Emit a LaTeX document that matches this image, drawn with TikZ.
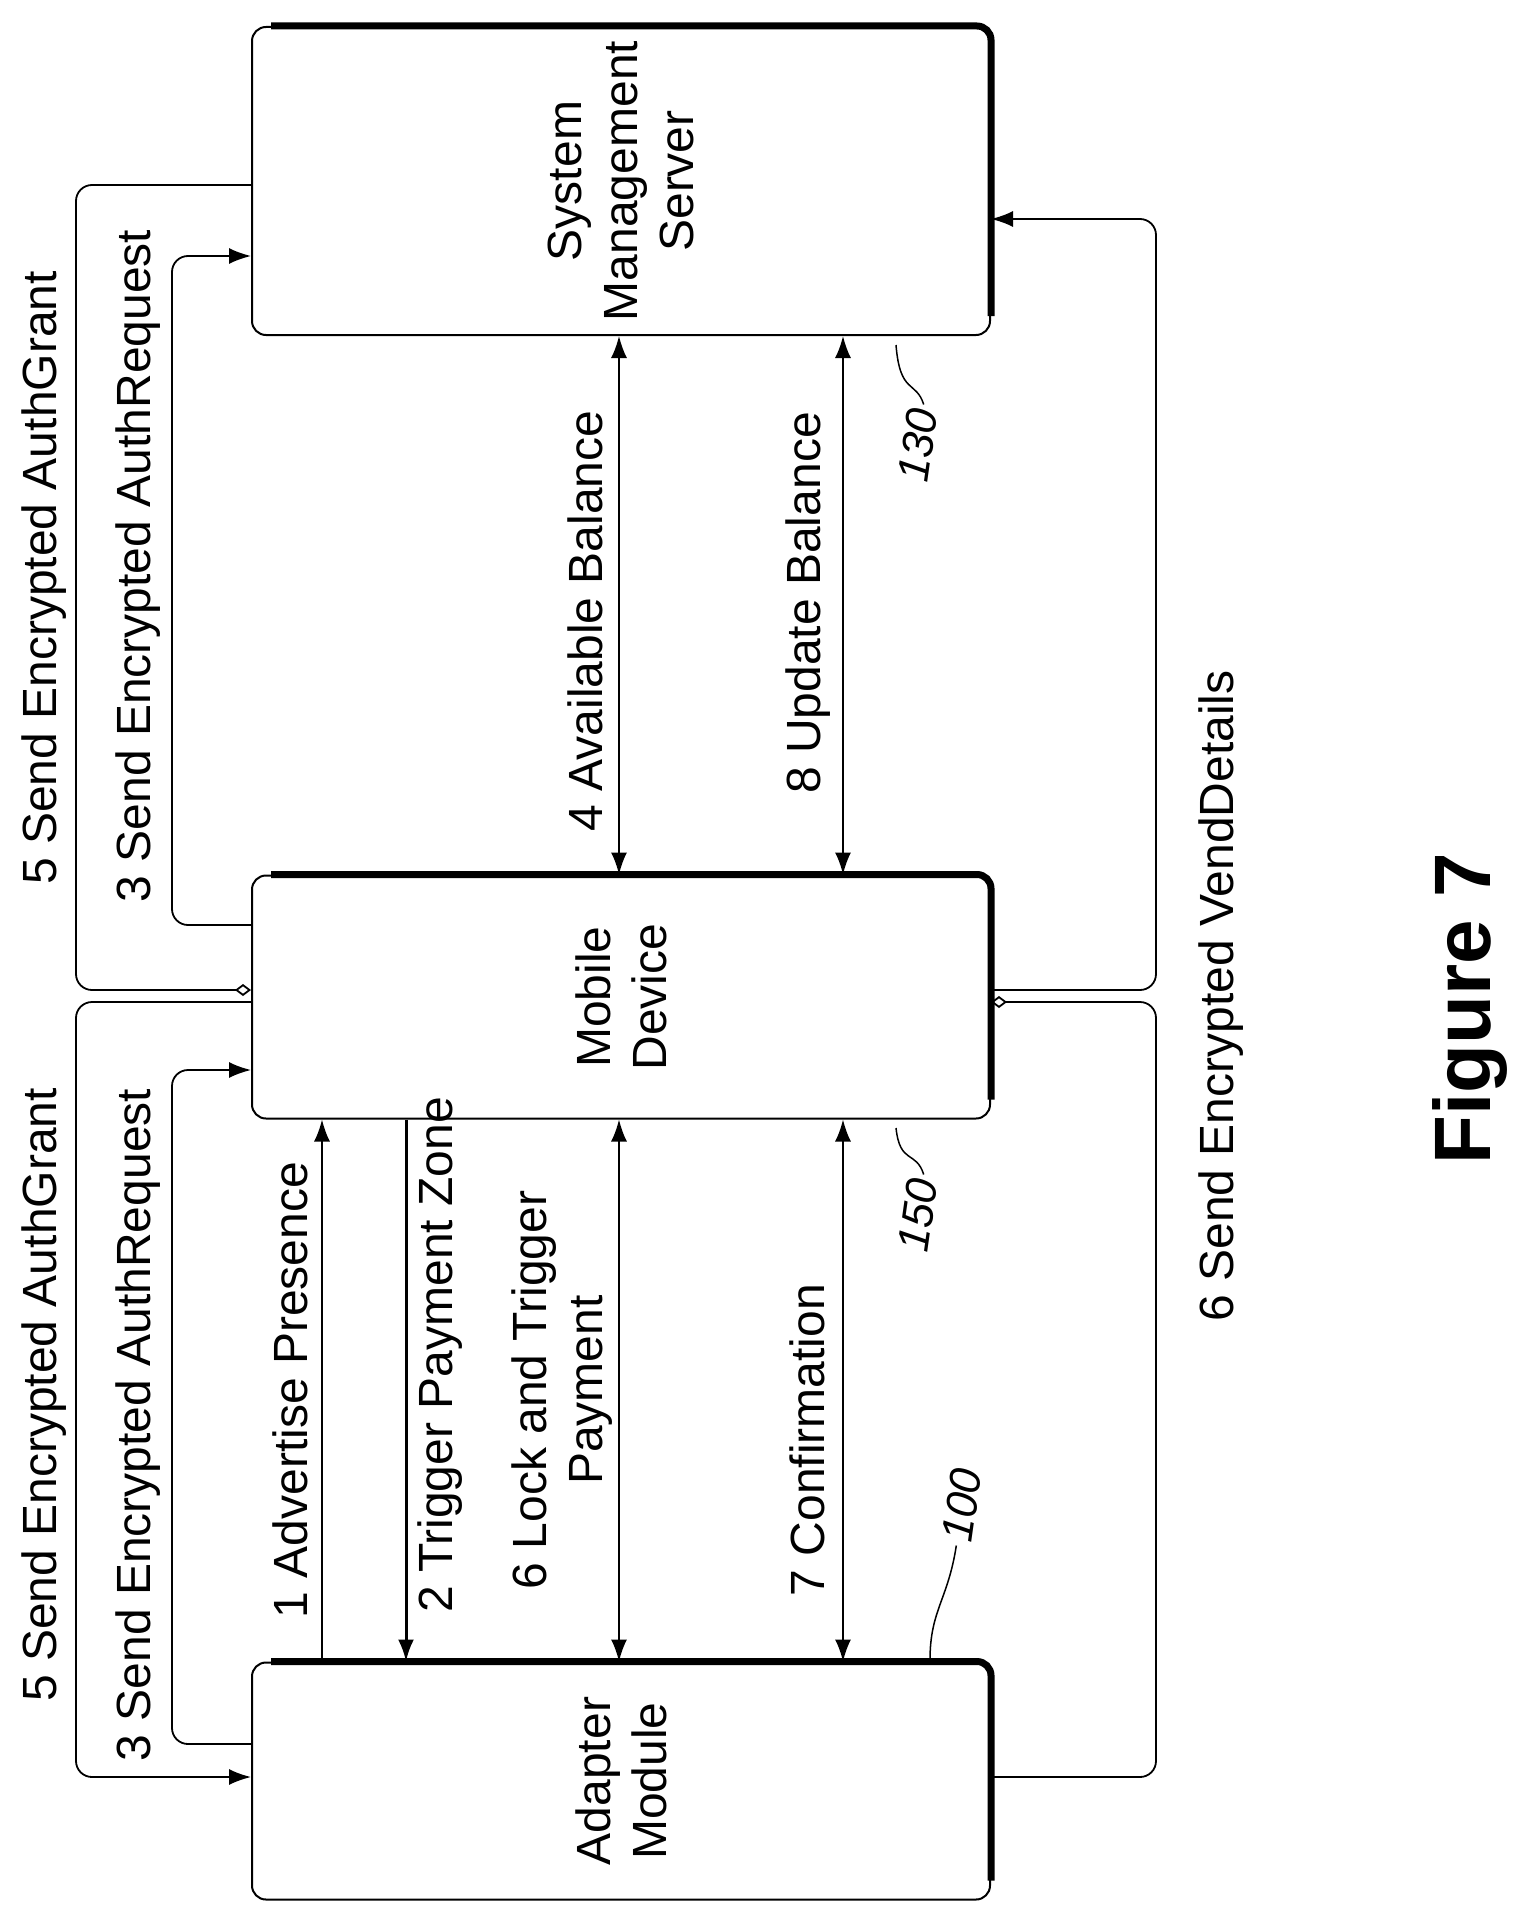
\documentclass[tikz,border=0pt]{standalone}
\usepackage{fontspec}
\setmainfont{Liberation Sans}
\usetikzlibrary{arrows.meta}
\begin{document}
\begin{tikzpicture}[x=1pt,y=-1pt,
  box/.style={draw,line width=2pt,rounded corners=14pt,minimum width=738pt,align=center},
  shade/.style={line width=7pt,rounded corners=14pt},
  conn/.style={line width=1.8pt,rounded corners=16pt},
  arr/.style={-{Latex[length=22pt,width=16pt]}},
  darr/.style={{Latex[length=22pt,width=16pt]}-{Latex[length=22pt,width=16pt]}},
  lab/.style={rotate=90,font=\fontsize{48}{56}\selectfont,align=center},
  num/.style={rotate=82,font=\itshape\fontsize{44}{50}\selectfont,inner sep=4pt},
  lead/.style={line width=1.5pt}]
\useasboundingbox (0,0) rectangle (1526,1916);
\node[box,minimum height=308pt] (server) at (621,181) {};
\node[box,minimum height=243pt] (mobile) at (621,997) {};
\node[box,minimum height=237pt] (adapter) at (621,1781) {};
\foreach \n in {server,mobile,adapter}{
  \draw[shade] ([xshift=20pt]\n.north west) -- (\n.north east) -- ([yshift=20pt]\n.south east);}
\node[lab] at (server.center) {System\\Management\\Server};
\node[lab] at (mobile.center) {Mobile\\Device};
\node[lab] at (adapter.center) {Adapter\\Module};
% left loops
\coordinate (a5) at (76,990);
\draw[conn,-{Diamond[open,length=16pt,width=12pt]}] (server.west |- 0,185) -| (a5) -- (mobile.west |- a5);
\draw[conn,arr] (mobile.west |- 0,1002) -| (76,1400) |- (adapter.west |- 0,1777);
\draw[conn,arr] (mobile.west |- 0,925) -| (172,600) |- (server.west |- 0,256);
\draw[conn,arr] (adapter.west |- 0,1744) -| (172,1300) |- (mobile.west |- 0,1070);
% right loop
\coordinate (r6) at (1156,1002);
\draw[conn,-{Diamond[open,length=16pt,width=12pt]}] (adapter.east |- 0,1777) -| (r6) -- (mobile.east |- r6);
\draw[conn,arr] (mobile.east |- 0,990) -| (1156,600) |- (server.east |- 0,219);
% verticals
\draw[line width=1.8pt,arr] (adapter.north -| 322,0) -- (mobile.south -| 322,0);
\draw[line width=3pt,arr] (mobile.south -| 406,0) -- (adapter.north -| 406,0);
\draw[line width=1.8pt,darr] (adapter.north -| 619,0) -- (mobile.south -| 619,0);
\draw[line width=1.8pt,darr] (adapter.north -| 843,0) -- (mobile.south -| 843,0);
\draw[line width=1.8pt,darr] (mobile.north -| 619,0) -- (server.south -| 619,0);
\draw[line width=1.8pt,darr] (mobile.north -| 843,0) -- (server.south -| 843,0);
% labels
\node[lab] at (290,1390) {1 Advertise Presence};
\node[lab] at (440,1355) {2 Trigger Payment Zone};
\node[lab] at (562,1390) {6 Lock and Trigger\\Payment};
\node[lab] at (807,1440) {7 Confirmation};
\node[lab] at (585,621) {4 Available Balance};
\node[lab] at (808,603) {8 Update Balance};
\node[lab] at (44,578) {5 Send Encrypted AuthGrant};
\node[lab] at (44,1395) {5 Send Encrypted AuthGrant};
\node[lab] at (138,566) {3 Send Encrypted AuthRequest};
\node[lab] at (138,1425) {3 Send Encrypted AuthRequest};
\node[lab] at (1221,996) {6 Send Encrypted VendDetails};
\node[rotate=90,font=\bfseries\fontsize{80}{90}\selectfont] at (1470,1009) {Figure 7};
% reference numbers
\node[num] (n130) at (918,445) {130};
\node[num] (n150) at (918,1215) {150};
\node[num] (n100) at (962,1505) {100};
\draw[lead] (n130.east) .. controls (916,380) and (900,395) .. (896,345);
\draw[lead] (n150.east) .. controls (916,1150) and (900,1165) .. (896,1128);
\draw[lead] (n100.west) .. controls (948,1600) and (930,1610) .. (930,1660);
\end{tikzpicture}
\end{document}
